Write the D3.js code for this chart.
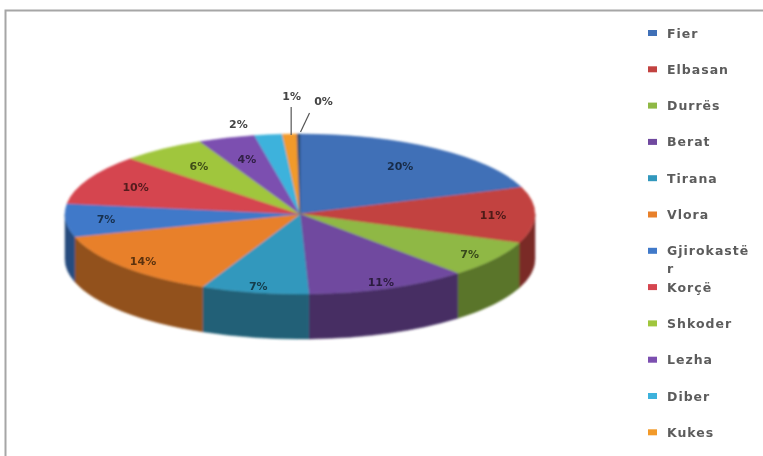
<!DOCTYPE html>
<html>
<head>
<meta charset="utf-8">
<script src="https://cdn.jsdelivr.net/npm/d3@7"></script>
<style>
  html, body { margin: 0; padding: 0; background: #fff; }
  svg { display: block; }
</style>
</head>
<body>
<svg id="chart" width="763" height="456"></svg>
<script>
// Share of each region (percent)
const regions = ["Fier", "Elbasan", "Durrës", "Berat", "Tirana", "Vlora",
                 "Gjirokastër", "Korçë", "Shkoder", "Lezha", "Diber", "Kukes", "Tjetër"];
const shares = [19.6, 11.3, 7.4, 11.1, 7.4, 13.6, 6.7, 10.1, 5.8, 3.9, 1.9, 1.0, 0.2];
const sliceColors = ["#3f6fb7", "#c2423f", "#8fb844", "#6f4a9f", "#3398bd", "#e8802b",
                     "#4079c9", "#d5454f", "#a0c63e", "#7b50b0", "#3db2dc", "#f29a2a", "#2c4d75"];

const W = 763, H = 456;
const svg = d3.select("#chart");

// frame (only its top and left edges fall inside the view)
svg.append("rect")
  .attr("x", 5.5).attr("y", 10.5)
  .attr("width", W + 40).attr("height", H + 40)
  .attr("fill", "#fff")
  .attr("stroke", "#a6a6a6").attr("stroke-width", 2);

const defs = svg.append("defs");
defs.append("filter").attr("id", "soft")
  .attr("x", "-5%").attr("y", "-5%").attr("width", "110%").attr("height", "110%")
  .append("feGaussianBlur").attr("stdDeviation", 1.0);
defs.append("filter").attr("id", "softText")
  .append("feGaussianBlur").attr("stdDeviation", 0.5);

// 3D pie geometry
const cx = 300, cy = 214, rx = 235, ry = 80, depth = 45;
const total = d3.sum(shares);
const pct = v => Math.round(v / total * 100) + "%";

const pie = d3.pie().sort(null).value(d => d).startAngle(0).endAngle(2 * Math.PI);
const arcs = pie(shares);

const P = (a, f = 1, dy = 0) => [cx + rx * f * Math.sin(a), cy - ry * f * Math.cos(a) + dy];

function topPath(a0, a1) {
  const p0 = P(a0), p1 = P(a1);
  const large = (a1 - a0) > Math.PI ? 1 : 0;
  return `M${cx},${cy}L${p0[0]},${p0[1]}A${rx},${ry} 0 ${large} 1 ${p1[0]},${p1[1]}Z`;
}
function sidePath(a0, a1) {
  const s = Math.max(a0, Math.PI / 2), e = Math.min(a1, 3 * Math.PI / 2);
  if (e <= s) return null;
  const p0 = P(s), p1 = P(e), q1 = P(e, 1, depth), q0 = P(s, 1, depth);
  return `M${p0[0]},${p0[1]}A${rx},${ry} 0 0 1 ${p1[0]},${p1[1]}` +
         `L${q1[0]},${q1[1]}A${rx},${ry} 0 0 0 ${q0[0]},${q0[1]}Z`;
}

const pieG = svg.append("g").attr("filter", "url(#soft)");

// outer walls of the front half
arcs.forEach((d, i) => {
  const path = sidePath(d.startAngle, d.endAngle);
  if (!path) return;
  pieG.append("path").attr("d", path)
    .attr("fill", d3.color(sliceColors[i]).darker(1.3))
    .attr("stroke", d3.color(sliceColors[i]).darker(1.3)).attr("stroke-width", 0.5);
});

// top faces
arcs.forEach((d, i) => {
  if (d.endAngle - d.startAngle <= 0) return;
  pieG.append("path").attr("d", topPath(d.startAngle, d.endAngle))
    .attr("fill", sliceColors[i])
    .attr("stroke", sliceColors[i]).attr("stroke-width", 0.5);
});

// data labels
const labelG = svg.append("g").attr("filter", "url(#softText)")
  .style("font-family", "'DejaVu Sans', sans-serif")
  .style("font-size", "11px").style("font-weight", "bold");

arcs.forEach((d, i) => {
  const mid = (d.startAngle + d.endAngle) / 2;
  const v = shares[i] / total * 100;
  if (v >= 3) {
    const f = 0.82 + 0.1 * (-Math.cos(mid));
    const [x, y] = P(mid, f, 4);
    labelG.append("text").attr("x", x).attr("y", y)
      .attr("text-anchor", "middle")
      .attr("fill", d3.color(sliceColors[i]).darker(2.6))
      .text(pct(shares[i]));
  }
});

// small slices at the back: labels outside, with leader lines where they crowd
const small = arcs.map((d, i) => ({ d, i })).filter(o => shares[o.i] / total * 100 < 3);
small.forEach((o, k) => {
  const mid = (o.d.startAngle + o.d.endAngle) / 2;
  const edge = P(mid);
  let tx, ty;
  if (k === 0) {
    tx = edge[0] - 30; ty = edge[1] - 7;
  } else if (k === 1) {
    tx = edge[0] + 2; ty = edge[1] - 34;
    labelG.append("line")
      .attr("x1", edge[0] + 1.5).attr("y1", edge[1] + 1)
      .attr("x2", edge[0] + 1.5).attr("y2", edge[1] - 27)
      .attr("stroke", "#555").attr("stroke-width", 1.2);
  } else {
    tx = edge[0] + 25; ty = edge[1] - 29;
    labelG.append("line")
      .attr("x1", edge[0] + 2).attr("y1", edge[1] - 2)
      .attr("x2", edge[0] + 11).attr("y2", edge[1] - 21)
      .attr("stroke", "#555").attr("stroke-width", 1.2);
  }
  labelG.append("text").attr("x", tx).attr("y", ty)
    .attr("text-anchor", "middle").attr("fill", "#444")
    .text(pct(shares[o.i]));
});

// legend: entries that fit in the plot height, long names wrapped
const legendX = 648, legendTop = 33, legendStep = 36.3, maxTextW = 86, lineGap = 18;
const legG = svg.append("g").attr("filter", "url(#softText)")
  .style("font-family", "'DejaVu Sans', sans-serif")
  .style("font-size", "12.5px").style("font-weight", "bold")
  .style("letter-spacing", "1px");

regions.forEach((name, i) => {
  const y = legendTop + i * legendStep;
  if (y + 10 > H) return;
  legG.append("rect").attr("x", legendX).attr("y", y - 3)
    .attr("width", 9).attr("height", 6).attr("fill", sliceColors[i]);
  const t = legG.append("text").attr("x", legendX + 19).attr("y", y + 4.5)
    .attr("fill", "#5c5c5c").text(name);
  if (t.node().getComputedTextLength() > maxTextW) {
    let cut = name.length;
    while (cut > 1) {
      t.text(name.slice(0, cut));
      if (t.node().getComputedTextLength() <= maxTextW) break;
      cut--;
    }
    legG.append("text").attr("x", legendX + 19).attr("y", y + 4.5 + lineGap)
      .attr("fill", "#5c5c5c").text(name.slice(cut));
  }
});
</script>
</body>
</html>
